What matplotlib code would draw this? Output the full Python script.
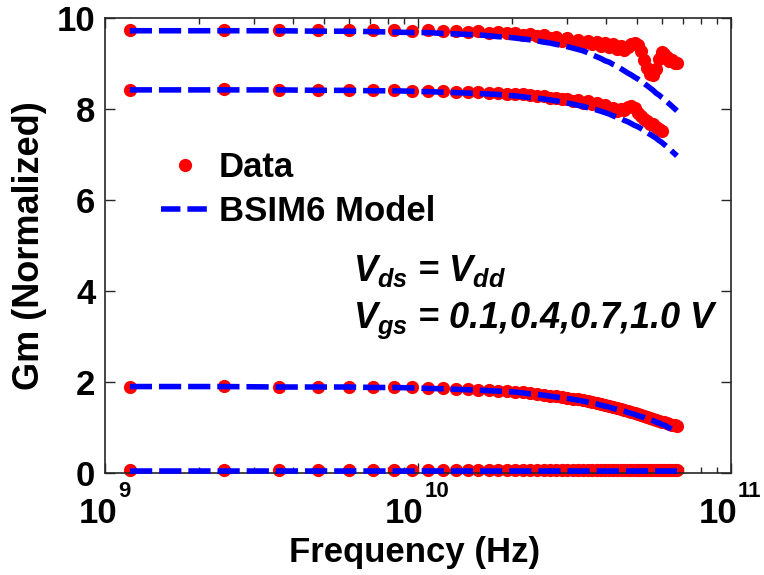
import matplotlib
matplotlib.use('Agg')
import matplotlib.pyplot as plt
import numpy as np
from matplotlib.lines import Line2D
from matplotlib.transforms import blended_transform_factory, offset_copy

# ---------------- data ----------------
freq_ghz = [1.2, 2.4, 3.6, 4.8, 6.0, 7.2, 8.4, 9.6, 10.8, 12.0, 13.2, 14.4, 15.6, 16.8,
            18.0, 19.2, 20.4, 21.6, 22.8, 24.0, 25.2, 26.4, 27.6, 28.8, 30.0, 31.2, 32.4,
            33.6, 34.8, 36.0, 37.2, 38.4, 39.6, 40.8, 42.0, 43.2, 44.4, 45.6, 46.8, 48.0,
            49.2, 50.4, 51.6, 52.8, 54.0, 55.2, 56.4, 57.6, 58.8, 60.0, 61.2, 62.4, 63.6,
            64.8, 66.0, 67.2]

# Vgs = 1.0 V
data_vgs10 = [9.74, 9.74, 9.73, 9.74, 9.73, 9.74, 9.73, 9.72, 9.73, 9.72,
              9.72, 9.70, 9.71, 9.68, 9.69, 9.66, 9.68, 9.63, 9.65, 9.60,
              9.62, 9.55, 9.58, 9.50, 9.55, 9.47, 9.52, 9.44, 9.50, 9.42,
              9.47, 9.38, 9.44, 9.36, 9.42, 9.32, 9.38, 9.30, 9.36, 9.42,
              9.46, 9.40, 9.28, 9.08, 8.90, 8.78, 8.74, 8.88, 9.10, 9.26,
              9.20, 9.14, 9.06, 9.07, 9.02, 9.01]
model_vgs10 = [9.72, 9.72, 9.72, 9.71, 9.71, 9.70, 9.69, 9.68, 9.68, 9.66,
               9.65, 9.64, 9.63, 9.61, 9.59, 9.58, 9.56, 9.54, 9.52, 9.50,
               9.47, 9.45, 9.42, 9.40, 9.37, 9.34, 9.31, 9.28, 9.24, 9.19,
               9.15, 9.11, 9.06, 9.03, 8.98, 8.94, 8.89, 8.84, 8.79, 8.75,
               8.70, 8.66, 8.61, 8.56, 8.51, 8.46, 8.41, 8.35, 8.31, 8.26,
               8.22, 8.16, 8.11, 8.06, 8.01, 7.96]

# Vgs = 0.7 V
data_vgs07 = [8.42, 8.43, 8.42, 8.42, 8.41, 8.42, 8.41, 8.40, 8.40, 8.39,
              8.38, 8.38, 8.37, 8.36, 8.35, 8.34, 8.33, 8.32, 8.30, 8.29,
              8.28, 8.25, 8.25, 8.21, 8.23, 8.17, 8.20, 8.14, 8.17, 8.10,
              8.13, 8.06, 8.09, 8.00, 8.02, 7.95, 7.99, 7.97, 8.04, 8.07,
              8.02, 7.92, 7.84, 7.78, 7.74, 7.68, 7.66, 7.60, 7.57, 7.52]
model_vgs07 = [8.42, 8.42, 8.42, 8.41, 8.41, 8.40, 8.40, 8.39, 8.38, 8.37,
               8.36, 8.35, 8.34, 8.33, 8.32, 8.30, 8.29, 8.27, 8.25, 8.24,
               8.22, 8.20, 8.18, 8.15, 8.13, 8.11, 8.08, 8.06, 8.03, 8.00,
               7.98, 7.95, 7.92, 7.89, 7.85, 7.82, 7.79, 7.75, 7.72, 7.68,
               7.64, 7.61, 7.57, 7.53, 7.48, 7.44, 7.40, 7.36, 7.31, 7.27,
               7.22, 7.17, 7.12, 7.07, 7.02, 6.97]

# Vgs = 0.4 V
data_vgs04 = [1.90, 1.91, 1.89, 1.90, 1.89, 1.89, 1.88, 1.88, 1.86, 1.86,
              1.85, 1.84, 1.83, 1.82, 1.80, 1.80, 1.78, 1.77, 1.75, 1.74,
              1.72, 1.70, 1.69, 1.67, 1.65, 1.63, 1.62, 1.60, 1.58, 1.56,
              1.54, 1.52, 1.49, 1.47, 1.45, 1.43, 1.40, 1.38, 1.36, 1.34,
              1.31, 1.29, 1.27, 1.25, 1.23, 1.21, 1.19, 1.17, 1.15, 1.13,
              1.11, 1.09, 1.08, 1.06, 1.05, 1.04]
model_vgs04 = [1.90, 1.90, 1.89, 1.89, 1.89, 1.88, 1.88, 1.87, 1.86, 1.85,
               1.84, 1.83, 1.82, 1.81, 1.80, 1.79, 1.78, 1.76, 1.74, 1.73,
               1.71, 1.69, 1.67, 1.65, 1.64, 1.62, 1.60, 1.58, 1.56, 1.54,
               1.52, 1.49, 1.47, 1.45, 1.42, 1.40, 1.38, 1.36, 1.33, 1.31,
               1.29, 1.26, 1.24, 1.22, 1.19, 1.17, 1.15, 1.12, 1.10, 1.07,
               1.05, 1.02, 0.99, 0.96, 0.94, 0.91]

# Vgs = 0.1 V
data_vgs01 = [0.06, 0.06, 0.06, 0.06, 0.06, 0.06, 0.06, 0.06, 0.06, 0.06,
              0.06, 0.06, 0.06, 0.06, 0.06, 0.06, 0.06, 0.06, 0.06, 0.06,
              0.06, 0.06, 0.06, 0.06, 0.06, 0.06, 0.06, 0.06, 0.06, 0.06,
              0.06, 0.06, 0.06, 0.06, 0.06, 0.06, 0.06, 0.06, 0.06, 0.06,
              0.06, 0.06, 0.06, 0.06, 0.06, 0.06, 0.06, 0.06, 0.06, 0.06,
              0.06, 0.06, 0.06, 0.06, 0.06, 0.06]
model_vgs01 = [0.05, 0.05, 0.05, 0.05, 0.05, 0.05, 0.05, 0.05, 0.05, 0.05,
               0.05, 0.05, 0.05, 0.05, 0.05, 0.05, 0.05, 0.05, 0.05, 0.05,
               0.05, 0.05, 0.05, 0.05, 0.05, 0.05, 0.05, 0.05, 0.05, 0.05,
               0.05, 0.05, 0.05, 0.05, 0.05, 0.05, 0.05, 0.05, 0.05, 0.05,
               0.05, 0.05, 0.05, 0.05, 0.05, 0.05, 0.05, 0.05, 0.05, 0.05,
               0.05, 0.05, 0.05, 0.05, 0.05, 0.05]

yticks = [0, 2, 4, 6, 8, 10]
xticks = [1e9, 1e10, 1e11]
xtick_base = ['10', '10', '10']
xtick_exp = ['9', '10', '11']

# ---------------- style ----------------
plt.rcParams['font.family'] = ['Liberation Sans', 'DejaVu Sans']
plt.rcParams['font.weight'] = 'bold'
plt.rcParams['mathtext.fontset'] = 'custom'
plt.rcParams['mathtext.rm'] = 'Liberation Sans:bold'
plt.rcParams['mathtext.it'] = 'Liberation Sans:italic:bold'
plt.rcParams['mathtext.bf'] = 'Liberation Sans:bold'
plt.rcParams['lines.scale_dashes'] = False

W, H = 764, 575
fig = plt.figure(figsize=(W / 100, H / 100), dpi=100)
ax = fig.add_axes([105 / W, 1 - 473 / H, 626 / W, 455 / H])

f = np.array(freq_ghz) * 1e9
RED = '#ff0000'
BLUE = '#0000ff'
DASH = (16, 5)

for d in [data_vgs10, data_vgs07, data_vgs04, data_vgs01]:
    ax.plot(f[:len(d)], d, linestyle='none', marker='o', ms=9.5, mew=0,
            color=RED, clip_on=False, zorder=2)
for m in [model_vgs10, model_vgs07, model_vgs04, model_vgs01]:
    ax.plot(f[:len(m)], m, linestyle='--', dashes=DASH, lw=4, color=BLUE,
            clip_on=False, zorder=3)

ax.set_xscale('log')
ax.set_xlim(1e9, 1e11)
ax.set_ylim(0, 10)
ax.set_yticks(yticks)
ax.set_yticklabels([str(v) for v in yticks])
ax.set_xticks(xticks)
ax.minorticks_on()
ax.yaxis.set_minor_locator(matplotlib.ticker.NullLocator())
ax.xaxis.set_minor_formatter(matplotlib.ticker.NullFormatter())

ax.tick_params(which='both', direction='in', top=True, right=True,
               labelsize=25, color='#262626')
ax.tick_params(which='major', length=7, width=1.0)
ax.tick_params(which='minor', length=4, width=1.0)
ax.tick_params(axis='y', pad=7)
ax.tick_params(axis='x', labelbottom=False)
for s in ax.spines.values():
    s.set_linewidth(1.2)
    s.set_color('#262626')

# x tick labels: base "10" with a raised exponent
trans = blended_transform_factory(ax.transData, ax.transAxes)
offsets = {'9': (12, 13), '10': (5, 7), '11': (6, 7)}
for t, b, e in zip(xticks, xtick_base, xtick_exp):
    dxb, dxe = offsets[e]
    ax.text(t, 0, b, transform=offset_copy(trans, fig=fig, x=dxb, y=-50, units='dots'),
            ha='right', va='baseline', fontsize=25, fontweight='bold')
    ax.text(t, 0, e, transform=offset_copy(trans, fig=fig, x=dxe, y=-24, units='dots'),
            ha='left', va='baseline', fontsize=16, fontweight='bold')

ax.set_xlabel('Frequency (Hz)', fontsize=25, fontweight='bold')
ax.xaxis.set_label_coords(0.495, -0.138)
ax.set_ylabel('Gm (Normalized)', fontsize=26, fontweight='bold')
ax.yaxis.set_label_coords(-0.093, 0.5)

handles = [Line2D([], [], linestyle='none', marker='o', ms=9.5, mew=0, color=RED),
           Line2D([], [], linestyle='--', dashes=(14, 5), lw=4, color=BLUE)]
fig.legend(handles, ['Data', 'BSIM6 Model'], loc='upper left',
           bbox_to_anchor=(161 / W, 1 - 151 / H), bbox_transform=fig.transFigure,
           frameon=False, handlelength=1.38, handletextpad=0.29,
           labelspacing=0.32, borderpad=0, borderaxespad=0,
           prop={'weight': 'bold', 'size': 25})

fig.text(353 / W, 1 - 281 / H, r'$V_{ds}$ = $V_{dd}$', fontsize=26,
         fontweight='bold', fontstyle='italic', va='baseline', ha='left')
fig.text(353 / W, 1 - 328 / H, r'$V_{gs}$ = 0.1,0.4,0.7,1.0 V', fontsize=26,
         fontweight='bold', fontstyle='italic', va='baseline', ha='left')

fig.savefig('out.png', dpi=100)
